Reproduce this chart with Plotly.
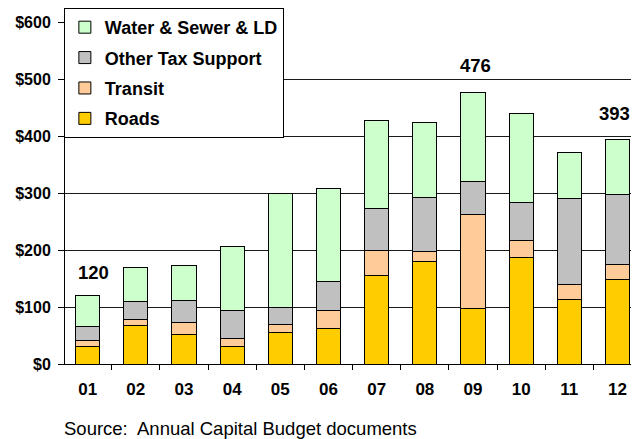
import plotly.graph_objects as go

years = ["01", "02", "03", "04", "05", "06", "07", "08", "09", "10", "11", "12"]
roads = [31, 68, 51, 31, 56, 62, 156, 180, 97, 186, 113, 149]
transit = [11, 10, 21, 14, 14, 32, 43, 17, 166, 30, 27, 25]
other_tax = [24, 31, 40, 49, 30, 50, 73, 95, 58, 67, 150, 123]
water_sewer = [54, 61, 61, 112, 199, 164, 156, 131, 155, 157, 81, 96]

y_ticks = [0, 100, 200, 300, 400, 500, 600]
y_labels = ["$0", "$100", "$200", "$300", "$400", "$500", "$600"]

series = [
    ("Roads", roads, "#FFCC00", 4),
    ("Transit", transit, "#FFCC99", 3),
    ("Other Tax Support", other_tax, "#C0C0C0", 2),
    ("Water & Sewer & LD", water_sewer, "#CCFFCC", 1),
]

totals = [sum(v) for v in zip(roads, transit, other_tax, water_sewer)]

fig = go.Figure()
for name, vals, color, rank in series:
    fig.add_trace(go.Bar(
        x=years,
        y=vals,
        name=name,
        legendgroup=name,
        legendrank=rank,
        marker=dict(color=color, line=dict(color="#000000", width=1)),
    ))

# total labels for 01, 09 and 12 (positions offset as in the original)
label_pos = [(0, 0.12, 160), (8, 8.05, 523), (11, 10.93, 439)]
for i, lx, ly in label_pos:
    fig.add_annotation(
        x=lx, y=ly, xref="x", yref="y",
        text=str(totals[i]), showarrow=False,
        font=dict(size=18.5, color="#000000", weight="bold"),
    )

# page body has an 8px margin, so figure pixels are page pixels minus 8
fig.add_annotation(
    x=(54 - 57) / 566, y=-(420 - 356) / 342, xref="paper", yref="paper",
    text="Source:  Annual Capital Budget documents", showarrow=False,
    xanchor="left", yanchor="middle",
    font=dict(size=18.5, family="Liberation Sans, Arial, sans-serif", color="#000000"),
)

fig.update_layout(
    width=623,
    height=431,
    barmode="stack",
    bargap=0.5,
    plot_bgcolor="#FFFFFF",
    paper_bgcolor="#FFFFFF",
    margin=dict(l=57, r=0, t=14, b=75, autoexpand=False),
    font=dict(family="Liberation Sans, Arial, sans-serif", color="#000000"),
    showlegend=True,
    legend=dict(
        x=-0.002, y=1.041, xanchor="left", yanchor="top",
        traceorder="grouped",
        tracegroupgap=4,
        bgcolor="#FFFFFF",
        bordercolor="#000000",
        borderwidth=1,
        font=dict(size=18, weight="bold"),
    ),
    xaxis=dict(
        type="category",
        range=[-0.47, 11.28],
        automargin=False,
        showline=True, linecolor="#000000", linewidth=1,
        ticks="outside", tickson="boundaries", ticklen=5, tickcolor="#000000",
        tickfont=dict(size=17, weight="bold"),
        ticklabelstandoff=10,
        showgrid=False,
    ),
    yaxis=dict(
        range=[0, 600],
        automargin=False,
        tickvals=y_ticks,
        ticktext=y_labels,
        showline=True, linecolor="#000000", linewidth=1,
        ticks="outside", ticklen=6, tickcolor="#000000",
        tickfont=dict(size=16, weight="bold"),
        ticklabelstandoff=4,
        showgrid=True, gridcolor="#1a1a1a", gridwidth=1,
        zeroline=False,
    ),
)

fig.write_html("out.html")
